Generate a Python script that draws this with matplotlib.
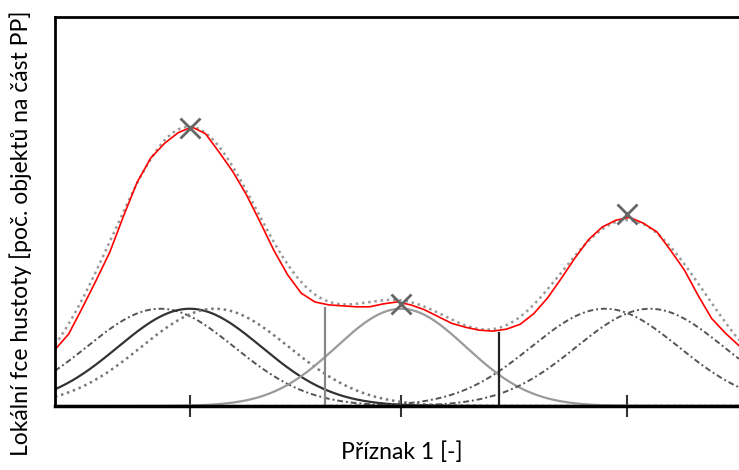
import matplotlib
matplotlib.use("Agg")
import matplotlib.pyplot as plt
import numpy as np

plt.rcParams['font.family'] = ['Lato', 'DejaVu Sans']

x_meas = [0.0, 0.2, 0.4, 0.6, 0.8, 1.0, 1.2, 1.4, 1.6, 1.8,
          2.0, 2.2, 2.4, 2.6, 2.8, 3.0, 3.2, 3.4, 3.6, 3.8,
          4.0, 4.2, 4.4, 4.6, 4.8, 5.0, 5.2, 5.4, 5.6, 5.8,
          6.0, 6.2, 6.4, 6.6, 6.8, 7.0, 7.2, 7.4, 7.6, 7.8,
          8.0, 8.2, 8.4, 8.6, 8.8, 9.0, 9.2, 9.4, 9.6, 9.8, 10.0]
y_meas = [0.58, 0.74, 1.01, 1.29, 1.58, 1.95, 2.30, 2.55, 2.70, 2.81,
          2.87, 2.80, 2.61, 2.41, 2.17, 1.89, 1.60, 1.35, 1.16, 1.07,
          1.04, 1.03, 1.02, 1.02, 1.05, 1.07, 1.04, 0.99, 0.92, 0.85,
          0.81, 0.78, 0.77, 0.79, 0.84, 0.95, 1.11, 1.31, 1.52, 1.71,
          1.84, 1.91, 1.94, 1.88, 1.79, 1.60, 1.40, 1.14, 0.90, 0.75, 0.62]

# gaussian components: centre, width, height
comp_mu = [1.54, 1.97, 2.34, 5.06, 8.04, 8.70]
comp_sigma = [1.08, 1.05, 1.08, 0.95, 1.08, 1.08]
comp_height = [1.0, 1.0, 1.0, 1.0, 1.0, 1.0]
comp_style = [
    dict(color="#555555", linestyle=(0, (3, 1.5, 1, 1.5)), linewidth=1.4),
    dict(color="#333333", linestyle="-", linewidth=1.6),
    dict(color="#777777", linestyle=(0, (1, 1.5)), linewidth=1.8),
    dict(color="#9a9a9a", linestyle="-", linewidth=1.6),
    dict(color="#555555", linestyle=(0, (3, 1.5, 1, 1.5)), linewidth=1.4),
    dict(color="#555555", linestyle=(0, (3, 1.5, 1, 1.5)), linewidth=1.4),
]

# cluster centres (crosses) and borders between clusters
peak_x = [1.97, 5.06, 8.36]
peak_y = [2.86, 1.05, 1.97]
border_x = [3.95, 6.49]
border_top = [1.01, 0.75]
border_color = ["#888888", "#222222"]

fig = plt.figure(figsize=(7.39, 4.70), dpi=100)
ax = fig.add_axes([55 / 739, 64 / 470, 1 - 55 / 739, 389 / 470])

xs = np.linspace(0, 10, 600)
total = np.zeros_like(xs)
for mu, s, h, st in zip(comp_mu, comp_sigma, comp_height, comp_style):
    g = h * np.exp(-(xs - mu) ** 2 / (2 * s ** 2))
    total += g
    ax.plot(xs, g, **st)

for bx, bt, bc in zip(border_x, border_top, border_color):
    ax.plot([bx, bx], [0, bt], color=bc, linewidth=1.6)

ax.plot(xs, total, color="#999999", linestyle=(0, (1, 1.5)), linewidth=1.8)
ax.plot(x_meas, y_meas, color="red", linewidth=1.2)
ax.plot(peak_x, peak_y, linestyle="none", marker="x", markersize=15,
        markeredgewidth=2, color="#666666")

ax.set_xlim(0, 10)
ax.set_ylim(0, 4.0)
ax.set_xticks(peak_x)
ax.set_xticklabels([])
ax.set_yticks([])
ax.tick_params(axis="x", direction="inout", length=16, width=1.5, color="#333333")
for sp in ax.spines.values():
    sp.set_linewidth(2)
ax.spines["bottom"].set_linewidth(2.5)
ax.spines["right"].set_visible(False)

ax.set_xlabel("Příznak 1 [-]", fontsize=16.5)
ax.set_ylabel("Lokální fce hustoty [poč. objektů na část PP]", fontsize=16.5)
ax.xaxis.set_label_coords(0.507, -0.09)
ax.yaxis.set_label_coords(-0.034, 0.445)

fig.savefig("out.png", dpi=100)
